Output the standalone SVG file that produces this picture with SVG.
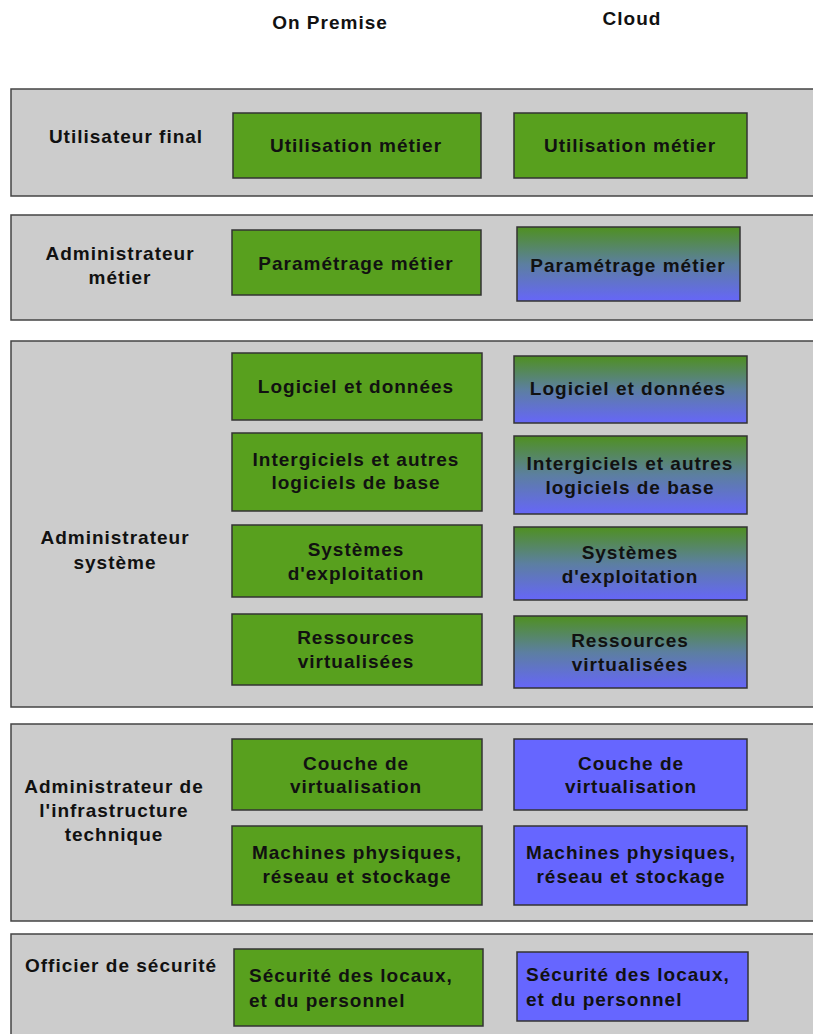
<svg xmlns="http://www.w3.org/2000/svg" width="813" height="1034" viewBox="0 0 813 1034">
<defs>
<linearGradient id="gb" x1="0" y1="0" x2="0" y2="1">
<stop offset="0" stop-color="#4f9020"/>
<stop offset="0.5" stop-color="#5c7fa0"/>
<stop offset="1" stop-color="#6666f8"/>
</linearGradient>
<style>
.band{fill:#cccccc;stroke:#444;stroke-width:1.5}
.g{fill:#58a01e;stroke:#333;stroke-width:1.5}
.b{fill:#6666ff;stroke:#333;stroke-width:1.5}
.gb{fill:url(#gb);stroke:#333;stroke-width:1.5}
text{font-family:"Liberation Sans",Arial,sans-serif;font-weight:bold;font-size:19px;letter-spacing:1px;fill:#111;text-anchor:middle}
.l{text-anchor:start}
</style>
</defs>
<rect width="813" height="1034" fill="#ffffff"/>
<g id="headers">
<text x="330" y="29">On Premise</text>
<text x="632" y="25">Cloud</text>
</g>
<g id="band-utilisateur">
<rect class="band" x="11" y="89" width="820" height="107"/>
<text x="126" y="143">Utilisateur final</text>
</g>
<g id="band-admin-metier">
<rect class="band" x="11" y="215" width="820" height="105"/>
<text x="120" y="260">Administrateur</text>
<text x="120" y="284">métier</text>
</g>
<g id="band-admin-systeme">
<rect class="band" x="11" y="341" width="820" height="366"/>
<text x="115" y="544">Administrateur</text>
<text x="115" y="569">système</text>
</g>
<g id="band-admin-infra">
<rect class="band" x="11" y="724" width="820" height="197"/>
<text x="114" y="793">Administrateur de</text>
<text x="114" y="817">l'infrastructure</text>
<text x="114" y="841">technique</text>
</g>
<g id="band-securite">
<rect class="band" x="11" y="934" width="820" height="110"/>
<text class="l" x="25" y="972">Officier de sécurité</text>
</g>
<g id="op-utilisation"><rect class="g" x="233" y="113" width="248" height="65"/><text x="356" y="152">Utilisation métier</text></g>
<g id="cl-utilisation"><rect class="g" x="514" y="113" width="233" height="65"/><text x="630" y="152">Utilisation métier</text></g>
<g id="op-parametrage"><rect class="g" x="232" y="230" width="249" height="65"/><text x="356" y="270">Paramétrage métier</text></g>
<g id="cl-parametrage"><rect class="gb" x="517" y="227" width="223" height="74"/><text x="628" y="272">Paramétrage métier</text></g>
<g id="op-logiciel"><rect class="g" x="232" y="353" width="250" height="67"/><text x="356" y="393">Logiciel et données</text></g>
<g id="cl-logiciel"><rect class="gb" x="514" y="356" width="233" height="67"/><text x="628" y="395">Logiciel et données</text></g>
<g id="op-intergiciels"><rect class="g" x="232" y="433" width="250" height="78"/><text x="356" y="466">Intergiciels et autres</text><text x="356" y="489">logiciels de base</text></g>
<g id="cl-intergiciels"><rect class="gb" x="514" y="436" width="233" height="78"/><text x="630" y="470">Intergiciels et autres</text><text x="630" y="494">logiciels de base</text></g>
<g id="op-systemes"><rect class="g" x="232" y="525" width="250" height="72"/><text x="356" y="556">Systèmes</text><text x="356" y="580">d'exploitation</text></g>
<g id="cl-systemes"><rect class="gb" x="514" y="527" width="233" height="73"/><text x="630" y="559">Systèmes</text><text x="630" y="583">d'exploitation</text></g>
<g id="op-ressources"><rect class="g" x="232" y="614" width="250" height="71"/><text x="356" y="644">Ressources</text><text x="356" y="668">virtualisées</text></g>
<g id="cl-ressources"><rect class="gb" x="514" y="616" width="233" height="72"/><text x="630" y="647">Ressources</text><text x="630" y="671">virtualisées</text></g>
<g id="op-couche"><rect class="g" x="232" y="739" width="250" height="71"/><text x="356" y="770">Couche de</text><text x="356" y="793">virtualisation</text></g>
<g id="cl-couche"><rect class="b" x="514" y="739" width="233" height="71"/><text x="631" y="770">Couche de</text><text x="631" y="793">virtualisation</text></g>
<g id="op-machines"><rect class="g" x="232" y="826" width="250" height="79"/><text x="357" y="859">Machines physiques,</text><text x="357" y="883">réseau et stockage</text></g>
<g id="cl-machines"><rect class="b" x="514" y="826" width="233" height="79"/><text x="631" y="859">Machines physiques,</text><text x="631" y="883">réseau et stockage</text></g>
<g id="op-securite"><rect class="g" x="234" y="949" width="249" height="77"/><text class="l" x="249" y="982">Sécurité des locaux,</text><text class="l" x="249" y="1007">et du personnel</text></g>
<g id="cl-securite"><rect class="b" x="517" y="952" width="231" height="69"/><text class="l" x="526" y="981">Sécurité des locaux,</text><text class="l" x="526" y="1006">et du personnel</text></g>
<g id="connectors"></g>
</svg>
